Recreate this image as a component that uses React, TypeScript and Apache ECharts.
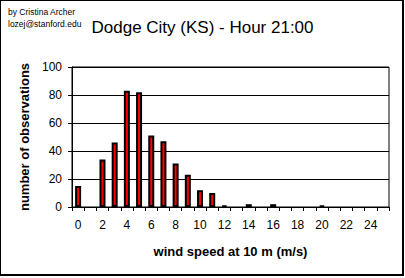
import React, { useEffect, useRef } from "react";
import * as echarts from "echarts";

const categories: string[] = Array.from({ length: 26 }, (_, i) => String(i));
const observations: number[] = [15, 0, 34, 46, 83, 82, 51, 47, 31, 23, 12, 10, 1, 0, 2, 0, 2, 0, 0, 0, 1, 0, 0, 0, 0, 0];
const yTicks = { min: 0, max: 100, interval: 20 };
const titleText = "Dodge City (KS) - Hour 21:00";
const creditLines = ["by Cristina Archer", "lozej@stanford.edu"];
const xName = "wind speed at 10 m (m/s)";
const yName = "number of observations";

const FONT = "'Liberation Sans', Arial, sans-serif";

export default function App() {
  const ref = useRef<HTMLDivElement>(null);
  useEffect(() => {
    if (!ref.current) return;
    const chart = echarts.init(ref.current, null, { renderer: "svg" });
    chart.setOption({
      animation: false,
      backgroundColor: "#ffffff",
      title: {
        text: titleText,
        left: "center",
        top: 14,
        textStyle: { fontFamily: FONT, fontSize: 17, fontWeight: "normal", color: "#000" },
      },
      graphic: [
        { type: "text", x: 8, y: 12, style: { text: creditLines[0], font: `8.5px ${FONT}`, fill: "#000", verticalAlign: "middle" } },
        { type: "text", x: 8, y: 23.5, style: { text: creditLines[1], font: `8.5px ${FONT}`, fill: "#000", verticalAlign: "middle" } },
        { type: "line", shape: { x1: 0.5, y1: 0, x2: 0.5, y2: 276 }, style: { stroke: "#000", lineWidth: 1 } },
        { type: "line", shape: { x1: 0, y1: 0.5, x2: 404, y2: 0.5 }, style: { stroke: "#000", lineWidth: 1 } },
        { type: "rect", shape: { x: 402, y: 0, width: 2, height: 276 }, style: { fill: "#000" } },
        { type: "rect", shape: { x: 0, y: 274, width: 404, height: 2 }, style: { fill: "#000" } },
      ],
      grid: {
        left: 72,
        right: 16,
        top: 67,
        bottom: 71,
        show: true,
        borderColor: "#000",
        borderWidth: 1,
        backgroundColor: "transparent",
      },
      xAxis: {
        type: "category",
        data: categories,
        boundaryGap: true,
        name: xName,
        nameLocation: "middle",
        nameGap: 38,
        nameTextStyle: { fontFamily: FONT, fontSize: 13, fontWeight: "bold", color: "#000" },
        axisLine: { show: true, lineStyle: { color: "#000", width: 1 } },
        axisTick: { show: true, interval: 0, length: 4, lineStyle: { color: "#000" } },
        axisLabel: { interval: 1, margin: 12, fontFamily: FONT, fontSize: 12, color: "#000" },
        splitLine: { show: false },
      },
      yAxis: {
        type: "value",
        min: yTicks.min,
        max: yTicks.max,
        interval: yTicks.interval,
        name: yName,
        nameLocation: "middle",
        nameGap: 36,
        nameTextStyle: { fontFamily: FONT, fontSize: 13, fontWeight: "bold", color: "#000" },
        axisLine: { show: true, lineStyle: { color: "#000", width: 1 } },
        axisTick: { show: true, length: 4, lineStyle: { color: "#000" } },
        axisLabel: { margin: 10, fontFamily: FONT, fontSize: 12, color: "#000" },
        splitLine: { show: true, lineStyle: { color: "#000", width: 1 } },
      },
      series: [
        {
          type: "bar",
          data: observations.map((v) => (v === 0 ? "-" : v)),
          barWidth: 6,
          itemStyle: { color: "#ff0000", borderColor: "#000", borderWidth: 2 },
        },
      ],
    });
    return () => chart.dispose();
  }, []);
  return <div ref={ref} style={{ position: "absolute", left: 0, top: 0, width: 405, height: 278 }} />;
}
